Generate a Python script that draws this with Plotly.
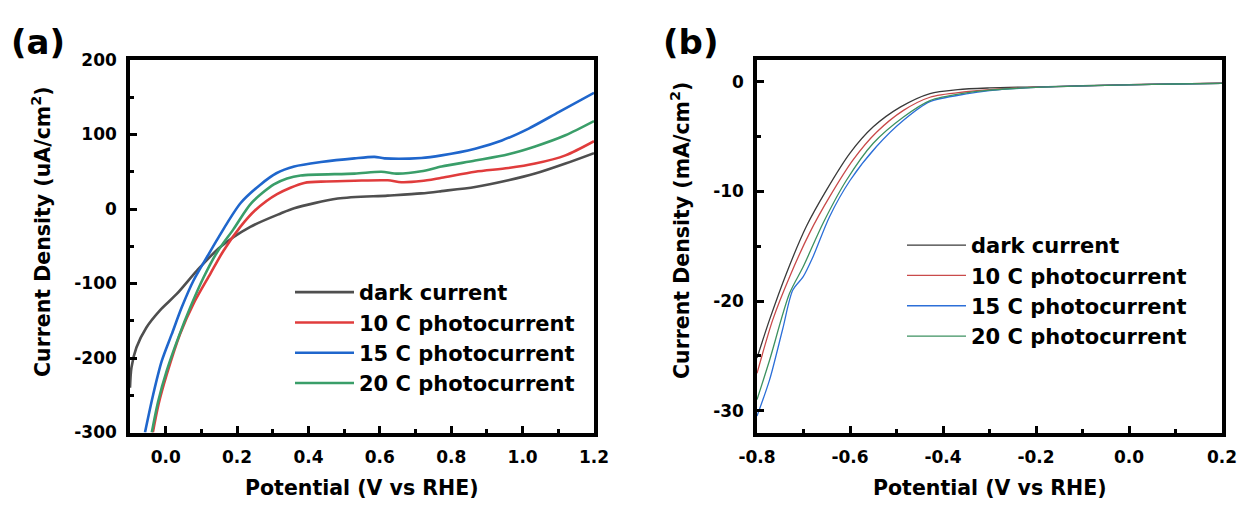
import plotly.graph_objects as go

W, H = 1239, 505

# ---------------- Panel (a) data: Potential (V vs RHE) vs Current density (uA/cm2)
a_dark_v = [-0.1, -0.096, -0.082, -0.054, -0.016, 0.031, 0.087, 0.153, 0.237, 0.322, 0.36, 0.482,
            0.622, 0.716, 0.773, 0.867, 0.96, 1.035, 1.12, 1.2]
a_dark_j = [-240, -213, -186, -159, -136, -114, -83, -51, -24, -6, 1, 14,
            18, 21, 24, 29.5, 38.5, 47.5, 61, 75]

a_10c_v = [-0.036, -0.02, 0.003, 0.04, 0.078, 0.125, 0.162, 0.209, 0.25, 0.312, 0.388, 0.45,
           0.529, 0.622, 0.66, 0.716, 0.773, 0.867, 0.96, 1.035, 1.12, 1.2]
a_10c_j = [-300, -262, -222, -168, -127, -87, -56, -24, -2, 20, 35, 37,
           38, 38.5, 36, 37.5, 42, 50, 55, 61, 72, 91]

a_15c_v = [-0.058, -0.035, -0.011, 0.017, 0.045, 0.078, 0.115, 0.148, 0.21, 0.266, 0.31, 0.36,
           0.435, 0.529, 0.585, 0.613, 0.716, 0.773, 0.867, 0.942, 1.017, 1.101, 1.2]
a_15c_j = [-300, -249, -204, -168, -132, -96, -65, -38, 8, 33, 48, 57,
           63, 68, 70, 68, 68.5, 72, 81, 92, 108, 130, 156]

a_20c_v = [-0.039, -0.021, 0.003, 0.036, 0.069, 0.106, 0.144, 0.19, 0.24, 0.303, 0.34, 0.378,
           0.529, 0.604, 0.65, 0.716, 0.773, 0.867, 0.96, 1.035, 1.12, 1.2]
a_20c_j = [-300, -258, -217, -172, -132, -92, -58, -27, 8, 33, 41, 45,
           47.5, 50, 47.5, 50.6, 57, 65, 73.5, 84, 99, 118]

# ---------------- Panel (b) data: Potential (V vs RHE) vs Current density (mA/cm2)
b_dark_v = [-0.8, -0.773, -0.737, -0.694, -0.651, -0.6, -0.55, -0.492, -0.428, -0.368, -0.3,
            -0.2, -0.1, 0.0, 0.1, 0.2]
b_dark_j = [-25.2, -21.7, -17.5, -13.2, -9.9, -6.5, -4.1, -2.3, -1.06, -0.7, -0.55,
            -0.45, -0.35, -0.25, -0.18, -0.12]

b_10c_v = [-0.8, -0.766, -0.73, -0.687, -0.644, -0.593, -0.543, -0.485, -0.428, -0.35, -0.3,
           -0.2, -0.1, 0.0, 0.1, 0.2]
b_10c_j = [-26.6, -21.7, -17.8, -13.8, -10.5, -7.1, -4.6, -2.6, -1.4, -0.9, -0.7,
           -0.48, -0.36, -0.26, -0.18, -0.12]

b_15c_v = [-0.8, -0.773, -0.745, -0.723, -0.701, -0.68, -0.644, -0.6, -0.543, -0.485, -0.428,
           -0.35, -0.3, -0.2, -0.1, 0.0, 0.1, 0.2]
b_15c_j = [-30.5, -27.2, -22.6, -19.0, -17.8, -16.0, -12.3, -9.0, -5.9, -3.5, -1.8,
           -1.1, -0.8, -0.5, -0.37, -0.27, -0.19, -0.13]

b_20c_v = [-0.8, -0.773, -0.73, -0.701, -0.658, -0.608, -0.55, -0.485, -0.428, -0.35, -0.3,
           -0.2, -0.1, 0.0, 0.1, 0.2]
b_20c_j = [-29.0, -25.4, -19.3, -16.9, -12.9, -9.0, -5.6, -3.2, -1.7, -1.0, -0.75,
           -0.5, -0.37, -0.27, -0.19, -0.13]

series_names = ["dark current", "10 C photocurrent", "15 C photocurrent", "20 C photocurrent"]

a_xticks = [0.0, 0.2, 0.4, 0.6, 0.8, 1.0, 1.2]
a_xtext = ["0.0", "0.2", "0.4", "0.6", "0.8", "1.0", "1.2"]
a_yticks = [-300, -200, -100, 0, 100, 200]
a_ytext = ["-300", "-200", "-100", "0", "100", "200"]
b_xticks = [-0.8, -0.6, -0.4, -0.2, 0.0, 0.2]
b_xtext = ["-0.8", "-0.6", "-0.4", "-0.2", "0.0", "0.2"]
b_yticks = [-30, -20, -10, 0]
b_ytext = ["-30", "-20", "-10", "0"]

colors_a = ["#4f4f4f", "#e03c3c", "#1f66cc", "#3a9e69"]
colors_b = ["#3a3a3a", "#c94a4a", "#2c6fd8", "#3d9160"]

FONT = "DejaVu Sans, Liberation Sans, sans-serif"

fig = go.Figure()

a_sets = [(a_dark_v, a_dark_j), (a_10c_v, a_10c_j), (a_15c_v, a_15c_j), (a_20c_v, a_20c_j)]
for (vx, jy), name, col in zip(a_sets, series_names, colors_a):
    fig.add_trace(go.Scatter(x=vx, y=jy, mode="lines", name=name,
                             line=dict(color=col, width=2.6, shape="spline", smoothing=0.8),
                             xaxis="x", yaxis="y", legend="legend"))

b_sets = [(b_dark_v, b_dark_j), (b_10c_v, b_10c_j), (b_15c_v, b_15c_j), (b_20c_v, b_20c_j)]
for (vx, jy), name, col in zip(b_sets, series_names, colors_b):
    fig.add_trace(go.Scatter(x=vx, y=jy, mode="lines", name=name,
                             line=dict(color=col, width=1.3, shape="spline", smoothing=0.8),
                             xaxis="x2", yaxis="y2", legend="legend2"))

def px_x(p):
    return p / W

def px_y(p):
    return 1 - p / H

tickfont = dict(family=FONT, size=17, color="black", weight="bold")
common = dict(showline=True, linecolor="black", linewidth=3.5, mirror=True,
              ticks="inside", ticklen=7, tickwidth=3, tickcolor="black",
              showgrid=False, zeroline=False, tickfont=tickfont, tickmode="array",
              automargin=False, ticklabelstandoff=6)

ydom = [px_y(432.5), px_y(60)]
minor_style = dict(ticks="inside", ticklen=4, tickwidth=2.5, tickcolor="black", tickmode="linear")

fig.update_layout(
    width=W, height=H,
    margin=dict(l=0, r=0, t=0, b=0),
    paper_bgcolor="white", plot_bgcolor="white",
    font=dict(family=FONT, color="black"),
    xaxis=dict(domain=[px_x(130), px_x(594)], range=[-0.1, 1.2], anchor="y",
               tickvals=a_xticks, ticktext=a_xtext,
               minor=dict(tick0=0.1, dtick=0.2, **minor_style), **common),
    yaxis=dict(domain=ydom, range=[-300, 200], anchor="x",
               tickvals=a_yticks, ticktext=a_ytext,
               minor=dict(tick0=-250, dtick=100, **minor_style), **common),
    xaxis2=dict(domain=[px_x(757), px_x(1222)], range=[-0.8, 0.2], anchor="y2",
                tickvals=b_xticks, ticktext=b_xtext,
                minor=dict(tick0=-0.7, dtick=0.2, **minor_style), **common),
    yaxis2=dict(domain=ydom, range=[-32, 2], anchor="x2",
                tickvals=b_yticks, ticktext=b_ytext,
                minor=dict(tick0=-25, dtick=10, **minor_style), **common),
    legend=dict(x=px_x(290), y=px_y(272), xanchor="left", yanchor="top",
                bgcolor="rgba(0,0,0,0)", borderwidth=0, itemwidth=59,
                font=dict(family=FONT, size=21, color="black", weight="bold")),
    legend2=dict(x=px_x(902), y=px_y(225), xanchor="left", yanchor="top",
                 bgcolor="rgba(0,0,0,0)", borderwidth=0, itemwidth=59,
                 font=dict(family=FONT, size=21, color="black", weight="bold")),
    showlegend=True,
)

title_font = dict(family=FONT, size=20.5, color="black", weight="bold")
fig.add_annotation(text="Potential (V vs RHE)", x=px_x(362), y=px_y(488), xref="paper", yref="paper",
                   showarrow=False, xanchor="center", yanchor="middle", font=title_font)
fig.add_annotation(text="Potential (V vs RHE)", x=px_x(989.5), y=px_y(488), xref="paper", yref="paper",
                   showarrow=False, xanchor="center", yanchor="middle", font=title_font)
fig.add_annotation(text="Current Density (uA/cm<sup>2</sup>)", x=px_x(42), y=px_y(232), xref="paper", yref="paper",
                   showarrow=False, xanchor="center", yanchor="middle", textangle=-90, font=title_font)
fig.add_annotation(text="Current Density (mA/cm<sup>2</sup>)", x=px_x(681), y=px_y(231), xref="paper", yref="paper",
                   showarrow=False, xanchor="center", yanchor="middle", textangle=-90, font=title_font)

label_font = dict(family=FONT, size=34, color="black", weight="bold")
fig.add_annotation(text="(a)", x=px_x(38), y=px_y(42), xref="paper", yref="paper",
                   showarrow=False, xanchor="center", yanchor="middle", font=label_font)
fig.add_annotation(text="(b)", x=px_x(690), y=px_y(42), xref="paper", yref="paper",
                   showarrow=False, xanchor="center", yanchor="middle", font=label_font)

fig.write_html("out.html")
